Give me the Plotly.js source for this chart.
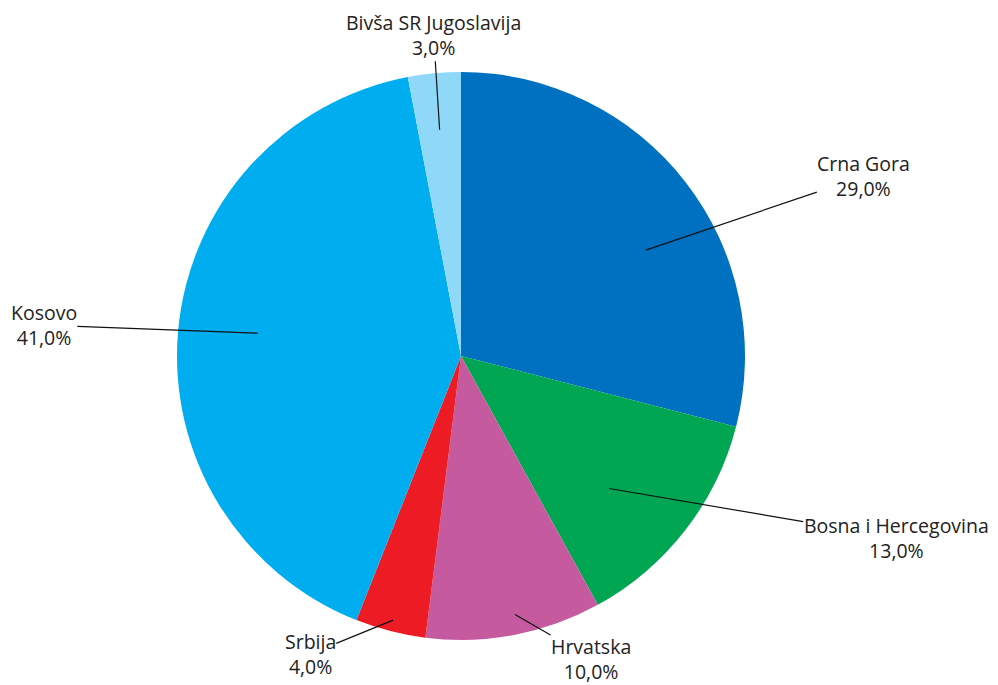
<!DOCTYPE html>
<html>
<head>
<meta charset="utf-8">
<script src="https://cdn.plot.ly/plotly-3.0.1.min.js"></script>
<style>html,body{margin:0;padding:0;background:#fff;}#chart{width:998px;height:685px;}</style>
</head>
<body>
<div id="chart"></div>
<script>
// Data
const categories = ["Crna Gora", "Bosna i Hercegovina", "Hrvatska", "Srbija", "Kosovo", "Bivša SR Jugoslavija"];
const shares = [29.0, 13.0, 10.0, 4.0, 41.0, 3.0];
const colors = ["#0070C0", "#00A651", "#C55A9F", "#ED1C24", "#00ADEF", "#8FD8F8"];

// Label styling (leader-line anchor radius fraction, angle shift, text offset in px)
const tipRadius = [0.75, 0.70, 0.93, 0.96, 0.72, 0.80];
const tipAngleShift = [8, 4, -1, 0, 1, 0];
const labelOffsetX = [218, 287, 76, -83, -214, -6];
const labelOffsetY = [-74, 49, 44, 34, -8, -95];

const W = 998, H = 685;
const margin = {l: 0, r: 0, t: 72, b: 45};
const cx = 461, R = 284;
const plotH = H - margin.t - margin.b;
const cyPaper = 0.5;

const total = shares.reduce((a, b) => a + b, 0);
const annotations = [];
let cum = 0;
shares.forEach((v, i) => {
  const mid = (cum + v / 2) / total * 360 + tipAngleShift[i];
  cum += v;
  const rad = mid * Math.PI / 180;
  const px = cx + Math.sin(rad) * R * tipRadius[i];
  const pyUp = Math.cos(rad) * R * tipRadius[i];
  annotations.push({
    xref: 'paper', yref: 'paper',
    x: px / W,
    y: cyPaper + pyUp / plotH,
    text: categories[i] + '<br>' + v.toFixed(1).replace('.', ',') + '%',
    showarrow: true, arrowhead: 0, arrowwidth: 1.2, arrowcolor: '#111',
    ax: labelOffsetX[i], ay: labelOffsetY[i],
    font: {family: '"Open Sans", sans-serif', size: 19.5, color: '#222'},
    align: 'center', standoff: 0, borderpad: 0
  });
});

const trace = {
  type: 'pie',
  labels: categories,
  values: shares,
  sort: false,
  direction: 'clockwise',
  rotation: 0,
  marker: {colors: colors, line: {width: 0}},
  textinfo: 'none',
  hoverinfo: 'none',
  domain: {x: [(cx - R) / W, (cx + R) / W], y: [0, 1]}
};

const layout = {
  width: W, height: H,
  margin: margin,
  showlegend: false,
  paper_bgcolor: '#fff',
  plot_bgcolor: '#fff',
  annotations: annotations
};

Plotly.newPlot('chart', [trace], layout, {displayModeBar: false, staticPlot: true});
</script>
</body>
</html>
